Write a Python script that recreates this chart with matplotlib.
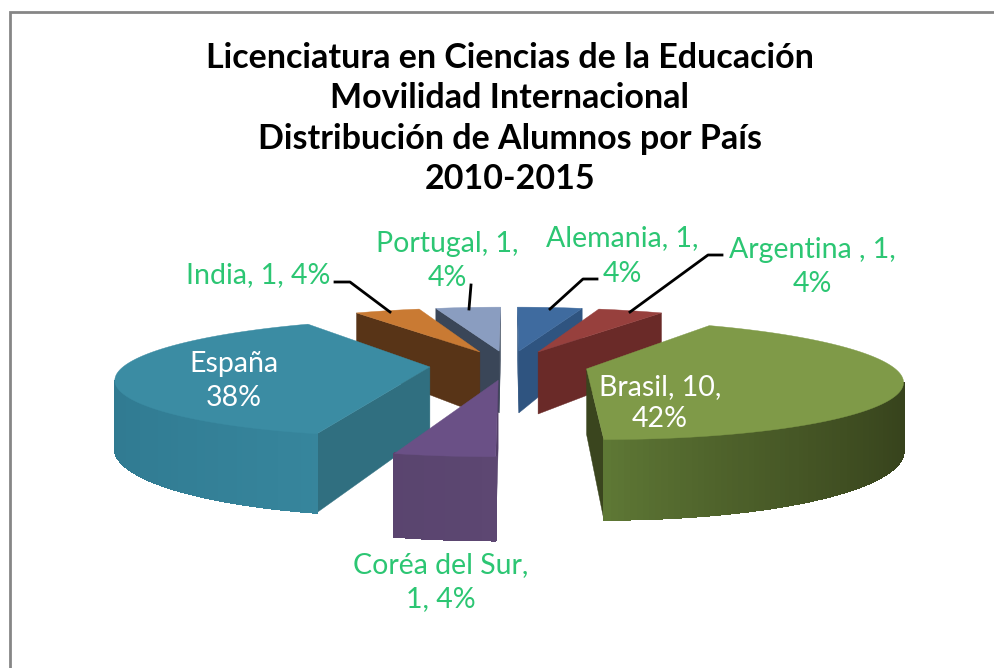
import matplotlib
matplotlib.use('Agg')
import matplotlib.pyplot as plt
import matplotlib.colors as mcolors
import numpy as np

plt.rcParams['font.family'] = ['Lato', 'DejaVu Sans']

paises = ['Alemania', 'Argentina', 'Brasil', 'Coréa del Sur', 'España', 'India', 'Portugal']
alumnos = [1, 1, 10, 1, 9, 1, 1]

titulo = ['Licenciatura en Ciencias de la Educación', 'Movilidad Internacional',
          'Distribución de Alumnos por País', '2010-2015']

top_col = ['#3F6B9F', '#97403D', '#7F9A48', '#6A5086', '#3B8CA3', '#C97A33', '#8A9DC0']
cut_col = ['#2F5480', '#6A2A28', '#3A451E', '#533F68', '#306F80', '#583417', '#3A4658']
side_a = ['#2F5480', '#6A2A28', '#607A36', '#5D4772', '#3A8BA2', '#583417', '#3A4658']  # lighter end
side_b = ['#2F5480', '#6A2A28', '#35401B', '#533F68', '#307A91', '#583417', '#3A4658']  # darker end

# perspective of the pie
CX, CY = 509, 365
ESCALA = 305
K = 0.18
TILT = 0.185
ALTO = 0.212
EXPLODE = 0.26


def proy(x, y, z=0):
    s = ESCALA / (1 + K * y)
    return (CX + x * s, CY - TILT * y * s + z * ALTO * s)


def area(pts):
    p = np.array(pts)
    return np.sum(p[:, 0] * np.roll(p[:, 1], -1) - np.roll(p[:, 0], -1) * p[:, 1])


fig = plt.figure(figsize=(9.94, 6.68), dpi=100)
ax = fig.add_axes([0, 0, 1, 1])
ax.set_xlim(0, 994)
ax.set_ylim(668, 0)
ax.axis('off')

# frame
ax.plot([10, 10, 994], [668, 12, 12], color='#868686', lw=2, solid_joinstyle='miter')

total = sum(alumnos)
ini = np.cumsum([0] + alumnos[:-1]) / total * 2 * np.pi
fin = np.cumsum(alumnos) / total * 2 * np.pi
mid = (ini + fin) / 2

# back wedges first
for i in sorted(range(len(alumnos)), key=lambda j: -np.cos(mid[j])):
    ex = EXPLODE * np.sin(mid[i])
    ey = EXPLODE * np.cos(mid[i])
    th = np.linspace(ini[i], fin[i], max(int((fin[i] - ini[i]) * 60), 8))
    arc = [(ex + np.sin(t), ey + np.cos(t)) for t in th]
    top = [proy(ex, ey)] + [proy(*p) for p in arc]

    # cut faces
    for p, orient in ((arc[0], 1), (arc[-1], -1)):
        q = [proy(ex, ey), proy(*p), proy(p[0], p[1], 1), proy(ex, ey, 1)]
        if orient * area(q) < 0:
            ax.fill(*zip(*q), color=cut_col[i], lw=0.3)

    # outer wall, shaded along the angle
    ca = np.array(mcolors.to_rgb(side_a[i]))
    cb = np.array(mcolors.to_rgb(side_b[i]))
    for a, b, t in zip(arc[:-1], arc[1:], th[:-1]):
        q = [proy(*a), proy(*b), proy(b[0], b[1], 1), proy(a[0], a[1], 1)]
        if area(q) > 0:
            continue
        f = abs(np.sin(t)) ** 0.8
        c = ca + (cb - ca) * f
        ax.fill(*zip(*q), color=c, lw=1, antialiased=False)
    ax.fill(*zip(*top), color=top_col[i], lw=0.3)

# title
for txt, y in zip(titulo, [58, 98, 139, 179]):
    ax.text(510, y, txt, ha='center', va='center', fontsize=24.5, fontweight='bold', color='black')

# labels
VERDE = '#2CC673'
ax.text(447, 261, 'Portugal, 1,\n4%', ha='center', va='center', color=VERDE, fontsize=20.5, linespacing=1.35)
ax.text(622, 256, 'Alemania, 1,\n4%', ha='center', va='center', color=VERDE, fontsize=20.5, linespacing=1.45)
ax.text(812, 267, 'Argentina , 1,\n4%', ha='center', va='center', color=VERDE, fontsize=20.5, linespacing=1.4)
ax.text(258, 275, 'India, 1, 4%', ha='center', va='center', color=VERDE, fontsize=20.5)
ax.text(441, 582, 'Coréa del Sur,\n1, 4%', ha='center', va='center', color=VERDE, fontsize=20.5, linespacing=1.4)
ax.text(234, 381, 'España\n38%', ha='center', va='center', color='white', fontsize=20.5, linespacing=1.35)
ax.text(660, 403, 'Brasil, 10,\n42%', ha='center', va='center', color='white', fontsize=20.5, linespacing=1.25)

# leader lines
ax.plot([335, 350, 390], [282, 282, 312], color='black', lw=2, zorder=6)
ax.plot([471, 469], [285, 309], color='black', lw=2, zorder=6)
ax.plot([597, 583, 550], [279, 279, 309], color='black', lw=2, zorder=6)
ax.plot([722, 708, 630], [255, 255, 312], color='black', lw=2, zorder=6)

fig.savefig('out.png', dpi=100)
